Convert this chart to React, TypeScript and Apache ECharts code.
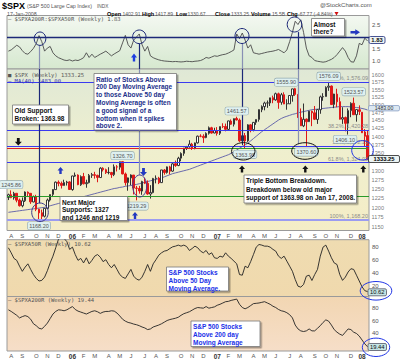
import React, { useEffect, useRef } from 'react';
import * as echarts from 'echarts';

const weeks = [
  '2005-07-29','2005-08-05','2005-08-12','2005-08-19','2005-08-26','2005-09-02','2005-09-09','2005-09-16','2005-09-23','2005-09-30',
  '2005-10-07','2005-10-14','2005-10-21','2005-10-28','2005-11-04','2005-11-11','2005-11-18','2005-11-25','2005-12-02','2005-12-09',
  '2005-12-16','2005-12-23','2005-12-30','2006-01-06','2006-01-13','2006-01-20','2006-01-27','2006-02-03','2006-02-10','2006-02-17',
  '2006-02-24','2006-03-03','2006-03-10','2006-03-17','2006-03-24','2006-03-31','2006-04-07','2006-04-14','2006-04-21','2006-04-28',
  '2006-05-05','2006-05-12','2006-05-19','2006-05-26','2006-06-02','2006-06-09','2006-06-16','2006-06-23','2006-06-30','2006-07-07',
  '2006-07-14','2006-07-21','2006-07-28','2006-08-04','2006-08-11','2006-08-18','2006-08-25','2006-09-01','2006-09-08','2006-09-15',
  '2006-09-22','2006-09-29','2006-10-06','2006-10-13','2006-10-20','2006-10-27','2006-11-03','2006-11-10','2006-11-17','2006-11-24',
  '2006-12-01','2006-12-08','2006-12-15','2006-12-22','2006-12-29','2007-01-05','2007-01-12','2007-01-19','2007-01-26','2007-02-02',
  '2007-02-09','2007-02-16','2007-02-23','2007-03-02','2007-03-09','2007-03-16','2007-03-23','2007-03-30','2007-04-06','2007-04-13',
  '2007-04-20','2007-04-27','2007-05-04','2007-05-11','2007-05-18','2007-05-25','2007-06-01','2007-06-08','2007-06-15','2007-06-22',
  '2007-06-29','2007-07-06','2007-07-13','2007-07-20','2007-07-27','2007-08-03','2007-08-10','2007-08-17','2007-08-24','2007-08-31',
  '2007-09-07','2007-09-14','2007-09-21','2007-09-28','2007-10-05','2007-10-12','2007-10-19','2007-10-26','2007-11-02','2007-11-09',
  '2007-11-16','2007-11-23','2007-11-30','2007-12-07','2007-12-14','2007-12-21','2007-12-28','2008-01-04','2008-01-11','2008-01-18',
];

const opens = [
  1227,1234,1226,1238,1220,1205,1218,1241,1238,1215,
  1229,1196,1187,1178,1198,1220,1235,1248,1268,1265,
  1259,1267,1269,1248,1285,1288,1261,1284,1264,1267,
  1287,1289,1287,1281,1307,1303,1295,1295,1289,1311,
  1310,1326,1291,1267,1280,1288,1252,1251,1244,1270,
  1265,1236,1240,1278,1279,1267,1302,1295,1311,1299,
  1320,1315,1336,1350,1366,1369,1377,1364,1381,1401,
  1401,1397,1410,1427,1411,1418,1410,1431,1431,1422,
  1448,1438,1456,1451,1387,1403,1387,1436,1421,1444,
  1453,1484,1494,1506,1506,1523,1516,1536,1508,1533,
  1503,1503,1530,1553,1534,1459,1433,1454,1446,1479,
  1474,1453,1484,1526,1527,1558,1562,1501,1535,1510,
  1454,1459,1441,1481,1505,1468,1484,1476,1414,1402.91,
];
const highs = [
  1237,1245.86,1242,1238,1224,1227,1243,1243,1238,1232,
  1234,1197,1195,1199,1224,1235,1249,1270,1273,1270,
  1275,1272,1271,1286,1295,1290,1287,1294,1275,1291,
  1294,1297,1289,1310,1310,1306,1310,1297,1318,1316,
  1326,1326.7,1295,1281,1290,1288,1258,1258,1272,1280,
  1273,1260,1280,1287,1283,1302,1305,1312,1314,1322,
  1329,1340,1353,1366,1372,1389,1381,1382,1403,1407,
  1407,1413,1431,1430,1427,1429,1431,1441,1440,1449,
  1453,1456,1461.57,1456,1410,1411,1438,1438,1445,1453,
  1485,1498,1510,1514,1523,1530,1540,1540,1539,1541,
  1518,1532,1553,1555.9,1534,1488,1504,1456,1480,1481,
  1496,1486,1530,1538,1561,1576.09,1564,1536,1553,1524,
  1492,1462,1488,1508,1523.57,1485,1498,1476,1423,1417.89,
];
const lows = [
  1220,1225,1221,1214,1203,1201,1215,1230,1210,1214,
  1191,1168.2,1169,1175,1198,1216,1228,1248,1257,1251,
  1259,1259,1248,1245,1283,1260,1258,1262,1253,1265,
  1280,1278,1268,1280,1298,1291,1290,1280,1285,1298,
  1303,1290,1259,1245,1260,1235,1219.29,1237,1234,1263,
  1234,1224,1238,1265,1263,1266,1289,1292,1290,1297,
  1311,1313,1327,1343,1360,1367,1360,1362,1379,1398,
  1381,1395,1406,1409,1410,1403,1405,1426,1416,1420,
  1436,1431,1450,1384,1374,1363.98,1384,1413,1416,1436,
  1446,1476,1482,1490,1496,1505,1513,1487,1500,1502,
  1484,1503,1510,1529,1458,1433,1429,1370.6,1445,1432,
  1451,1439,1471,1513,1527,1546,1500,1489,1492,1453,
  1439,1416,1406.1,1460,1467,1446,1467,1411,1370,1330.67,
];
const closes = [
  1234.2,1226.4,1237.8,1219.7,1205.1,1218.0,1241.5,1237.9,1215.3,1228.8,
  1195.9,1186.6,1177.8,1198.4,1220.1,1234.7,1248.3,1268.3,1265.1,1259.4,
  1267.3,1268.7,1248.3,1285.5,1287.6,1261.5,1283.7,1264.0,1267.0,1287.2,
  1289.4,1287.2,1281.4,1307.3,1303.0,1294.8,1295.5,1289.1,1311.3,1310.6,
  1325.8,1291.2,1267.0,1280.2,1288.2,1252.3,1251.5,1244.5,1270.2,1265.5,
  1236.2,1240.3,1278.6,1279.4,1266.7,1302.3,1295.1,1311.0,1298.9,1319.7,
  1314.8,1335.9,1349.6,1365.6,1368.6,1377.3,1364.3,1380.9,1401.2,1401.0,
  1396.7,1409.8,1427.1,1410.8,1418.3,1409.7,1430.7,1430.5,1422.2,1448.4,
  1438.1,1455.5,1451.2,1387.2,1402.8,1387.0,1436.1,1420.9,1443.8,1452.9,
  1484.4,1494.1,1505.6,1505.9,1522.8,1515.7,1536.3,1507.7,1532.9,1502.6,
  1503.4,1530.4,1552.5,1534.1,1459.0,1433.1,1453.6,1445.9,1479.4,1474.0,
  1453.6,1484.3,1525.8,1526.8,1557.6,1561.8,1500.6,1535.3,1509.7,1453.7,
  1458.7,1440.7,1481.1,1504.7,1468.0,1484.5,1478.5,1411.6,1401.0,1333.25,
];
const ma40 = [
  1188,1189,1190,1191,1192,1193,1194,1195,1196,1197,
  1198,1199,1200,1201,1203,1205,1207,1209,1211,1213,
  1215,1217,1219,1221,1223,1225,1227,1229,1231,1233,
  1235,1237,1239,1241,1243,1245,1247,1249,1251,1252,
  1254,1255,1257,1258,1259,1261,1262,1264,1266,1268,
  1270,1272,1274,1276,1278,1280,1283,1286,1289,1292,
  1294,1296,1298,1300,1302,1304,1307,1310,1313,1316,
  1319,1322,1325,1328,1331,1334,1337,1340,1343,1346,
  1350,1355,1360,1365,1370,1375,1380,1387,1394,1401,
  1408,1415,1421,1427,1433,1439,1445,1451,1456,1460,
  1463,1466,1469,1471,1474,1476,1478,1480,1482,1484,
  1485,1486,1487,1488,1489,1490,1491,1492,1493,1494,
  1494,1494,1494,1493,1492,1491,1490,1488,1486,1483,
];
const ratio = [
  1.40,1.45,1.55,1.65,1.58,1.42,1.30,1.27,1.38,1.52,
  1.72,2.06,1.80,1.40,1.53,1.60,1.33,1.20,1.12,1.07,
  1.02,1.00,1.03,0.98,1.02,1.00,1.05,1.12,1.33,1.13,
  1.27,1.13,1.20,1.27,1.33,1.40,1.30,1.20,1.28,1.35,
  1.42,1.75,2.07,1.67,1.53,1.87,2.00,2.13,1.67,1.40,
  1.60,1.20,1.12,1.07,1.03,1.00,0.98,0.97,0.96,0.95,
  0.96,0.95,0.94,0.95,0.97,0.96,0.95,0.97,0.98,1.00,
  1.05,1.13,1.10,1.15,1.20,1.18,1.22,1.25,1.27,1.32,
  1.38,1.45,2.13,1.93,2.17,1.87,1.53,1.67,1.33,1.30,
  1.27,1.30,1.33,1.36,1.38,1.40,1.43,1.47,1.40,1.33,
  1.45,1.80,2.20,2.67,2.53,2.73,2.20,1.53,1.20,1.13,
  1.00,0.97,0.95,0.93,0.95,1.00,1.05,1.13,1.25,1.40,
  1.55,1.40,1.13,0.95,0.93,1.20,1.73,1.67,1.95,1.83,
];
const a50r = [
  78.5,70.7,62,59,50,42,48.5,53.6,45,37,
  31,27,28,33,43,55,65.5,78.5,92,94,
  93,88,76,79.5,68,59,62,55,63,53.6,
  59,65.5,68,64,57,60,52.6,47.5,52.6,45,
  37,33,31,38,45,34.5,30,28.3,33,42,
  52.6,42,53.6,60,67,70.7,73.3,74.3,77.4,80,
  81,82.6,81,82.6,80.5,74.3,77.4,81,78.5,73.3,
  70.7,74.3,68,70.7,63,62,65.5,64,70.7,65.5,
  62,57.8,53.6,37,36,50,47.5,57,68,79.5,
  83.6,82.6,81,81,79.5,76,73.3,65.5,62,65.5,
  57.8,50,42,29.4,19,17.5,21.6,34.5,36,27.8,
  37,45,65.5,79.5,82.6,73.3,63,55,52.6,37,
  28,33,41,46,45,36,27,18,12,10.62,
];
const a200r = [
  76.5,74,71,68,64,66,67.5,66,62,55,
  52,48,47,51,56,63,70,74,76.5,76,
  75,76.5,79,81.5,77,74.5,73,71.5,70,72,
  74,75,73.5,71,73,74,74,75,74.5,71.5,
  67,62,59,57,56,54.5,53.5,52,50,48.5,
  46,47,50,51.5,53,55,57.5,60,61.5,62.5,
  63.5,65,68,70.5,72,73.5,76,78.5,80,79.5,
  79,81.5,79,80,81,83.5,85,87,89,89.5,
  91,92,93,85,80,78,80,83,86,86.5,
  87,88,89,87,85,82,80,77,75,74,
  72,69,64,53,47,44,43,44,47,44,
  44,48,52,57,61,59,53,46,42,39,
  37,42,47,46,42,40,36,30,24,19.44,
];
// visible right-hand price tick labels (1325 sits under the close tag)
const priceTicks = [1150,1175,1200,1225,1250,1275,1300,1350,1375,1400,1425,1450,1475,1500,1525,1550,1575,1600];
const ratioTicks = [1.0, 1.5, 2.5];
const a50Ticks = [20, 40, 60, 80];
const a200Ticks = [40, 60, 80];
const monthLetters = ['J','F','M','A','M','J','J','A','S','O','N','D'];

// price annotations (week index, value, text, side)
const noteIdx = [1, 11, 41, 46, 82, 85, 103, 107, 115, 122, 124];
const noteVal = [1245.86, 1168.2, 1326.7, 1219.29, 1461.57, 1363.98, 1555.9, 1370.6, 1576.09, 1406.1, 1523.57];
const noteText = ['1245.86','1168.20','1326.70','1219.29','1461.57','1363.98','1555.90','1370.60','1576.09','1406.10','1523.57'];
const noteSide = ['top','bottom','top','bottom','top','bottom','top','bottom','top','bottom','top'];

const fibVals = [1576.09, 1420.28, 1372.15, 1324.02];
const fibText = ['0%, 1,576.09', '38.2%, 1,420.28', '50%, 1,372.15', '61.8%, 1,324.02'];

const FONT = 'Liberation Sans';
const MONO = 'DejaVu Sans Mono';

function box(x: number, y: number, w: number, h: number, lines: string[], color: string, lh: number, fs = 6.5) {
  return {
    type: 'group', z: 60,
    children: [
      { type: 'rect', z: 60, shape: { x, y, width: w, height: h },
        style: { fill: '#ffffff', stroke: '#777', lineWidth: 0.8, shadowColor: 'rgba(0,0,0,0.35)', shadowOffsetX: 1.5, shadowOffsetY: 1.5, shadowBlur: 1 } },
      { type: 'text', z: 61, x: x + 2, y: y + 1.8,
        style: { text: lines.join('\n'), fill: color, fontSize: fs, fontWeight: 'bold', fontFamily: FONT, lineHeight: lh, verticalAlign: 'top', align: 'left' } },
    ],
  };
}
function arrowUp(cx: number, top: number, w: number, h: number, color: string) {
  const m = top + h * 0.5;
  return { type: 'polygon', z: 60, shape: { points: [[cx, top], [cx + w / 2, m], [cx + w / 5, m], [cx + w / 5, top + h], [cx - w / 5, top + h], [cx - w / 5, m], [cx - w / 2, m]] }, style: { fill: color } };
}
function arrowDown(cx: number, top: number, w: number, h: number, color: string) {
  const m = top + h * 0.5;
  return { type: 'polygon', z: 60, shape: { points: [[cx, top + h], [cx + w / 2, m], [cx + w / 5, m], [cx + w / 5, top], [cx - w / 5, top], [cx - w / 5, m], [cx - w / 2, m]] }, style: { fill: color } };
}
function arrowRight(left: number, cy: number, w: number, h: number, color: string) {
  const m = left + w * 0.5;
  return { type: 'polygon', z: 60, shape: { points: [[left + w, cy], [m, cy - h / 2], [m, cy - h / 5], [left, cy - h / 5], [left, cy + h / 5], [m, cy + h / 5], [m, cy + h / 2]] }, style: { fill: color } };
}
function ell(cx: number, cy: number, rx: number, ry: number, color: string, lw = 1) {
  return { type: 'ellipse', z: 58, shape: { cx, cy, rx, ry }, style: { fill: 'none', stroke: color, lineWidth: lw } };
}
function tag(x: number, cy: number, w: number, text: string, fill: string, stroke: string, color: string, bold: boolean, h = 7, fs = 5.8) {
  return {
    type: 'group', z: 62,
    children: [
      { type: 'rect', z: 62, shape: { x, y: cy - h / 2, width: w, height: h, r: 1.5 }, style: { fill, stroke, lineWidth: 0.8 } },
      { type: 'text', z: 63, x: x + w / 2, y: cy, style: { text, fill: color, fontSize: fs, fontWeight: bold ? 'bold' : 'normal', fontFamily: FONT, align: 'center', verticalAlign: 'middle' } },
    ],
  };
}
function txt(x: number, y: number, text: string, fs: number, color: string, bold = false, family = FONT) {
  return { type: 'text', z: 55, x, y, style: { text, fill: color, fontSize: fs, fontWeight: bold ? 'bold' : 'normal', fontFamily: family, verticalAlign: 'middle', align: 'left' } };
}
const near = (v: number, list: number[]) => list.some((t) => Math.abs(t - v) < 1e-6);

function buildOption() {
  const L = 7, R = 31;
  const grad = (stops: [number, string][]) => new echarts.graphic.LinearGradient(0, 0, 0, 1, stops.map(([offset, color]) => ({ offset, color })));
  const gridBase = { left: L, right: R, show: true, borderColor: '#9a9a9a', borderWidth: 1, containLabel: false, outerBoundsMode: 'none' };

  const catAxis = (gi: number, showLabels: boolean) => ({
    type: 'category', gridIndex: gi, data: weeks, boundaryGap: true,
    axisLine: { show: false }, axisTick: { show: false }, splitLine: { show: false },
    axisLabel: {
      show: showLabels, fontSize: 6, color: '#555', margin: 2, fontFamily: FONT, hideOverlap: false,
      interval: (i: number) => i > 0 && weeks[i].slice(5, 7) !== weeks[i - 1].slice(5, 7),
      formatter: (v: string) => {
        const m = parseInt(v.slice(5, 7), 10);
        return m === 1 ? '{b|' + v.slice(2, 4) + '}' : monthLetters[m - 1];
      },
      rich: { b: { fontWeight: 'bold', fontSize: 6.5, color: '#333', fontFamily: FONT } },
    },
  });
  const valAxisLabel = (list: number[], digits: number) => ({
    fontSize: 6, color: '#555', margin: 3, fontFamily: FONT, hideOverlap: false,
    formatter: (v: number) => (near(v, list) ? v.toFixed(digits) : ''),
  });

  const candleData = weeks.map((_, i) => {
    const o = opens[i], c = closes[i];
    const prev = i > 0 ? closes[i - 1] : o;
    const col = c >= prev ? '#333333' : '#e01818';
    const fill = c < o ? col : '#ffffff';
    return { value: [o, c, lows[i], highs[i]], itemStyle: { color: fill, color0: fill, borderColor: col, borderColor0: col, borderWidth: 1 } };
  });

  const vStyle = (color: string) => ({ color, width: 1.2, type: 'solid' });
  const navy = '#1c2878', grayBlue = '#8890b4';
  const hy = 13.5;

  const graphic: any[] = [
    // header
    txt(2, 6, '$SPX', 9, '#000', true),
    txt(27, 6.3, '(S&P 500 Large Cap Index)', 5.3, '#555'),
    txt(97, 6.5, 'INDX', 4.8, '#555'),
    txt(320, 5, '@StockCharts.com', 6, '#555'),
    txt(7, hy, '17-Jan-2008', 5.3, '#555'),
    txt(107, hy, 'Open', 5.5, '#000', true), txt(122.5, hy, '1402.91', 5, '#555'),
    txt(142, hy, 'High', 5.5, '#000', true), txt(155, hy, '1417.89', 5, '#555'),
    txt(176, hy, 'Low', 5.5, '#000', true), txt(187.5, hy, '1330.67', 5, '#555'),
    txt(215, hy, 'Close', 5.5, '#000', true), txt(231, hy, '1333.25', 5, '#555'),
    txt(251, hy, 'Volume', 5.5, '#000', true), txt(272, hy, '15.5B', 5, '#555'),
    txt(287, hy, 'Chg', 5.5, '#000', true), txt(298, hy, '-67.77 (-4.84%)', 5, '#555'),
    { type: 'polygon', z: 55, shape: { points: [[334.5, 12], [338.5, 12], [336.5, 15.5]] }, style: { fill: '#d01010' } },
    // panel headers
    txt(8, 19, '\u2014 $SPXA200R:$SPXA50R (Weekly) 1.83', 5.5, '#555', false, MONO),
    txt(8, 74.5, '\u25A0 $SPX (Weekly) 1333.25', 5.5, '#555', false, MONO),
    txt(8, 81, '\u2014 MA(40) 1483.00', 5.5, '#3333aa', false, MONO),
    txt(8, 243.5, '\u2014 $SPXA50R (Weekly) 10.62', 5.5, '#555', false, MONO),
    txt(8, 300, '\u2014 $SPXA200R (Weekly) 19.44', 5.5, '#555', false, MONO),
    // ellipses
    ell(40, 38.7, 5.8, 6.7, navy), ell(139.3, 36.8, 6.7, 6.8, navy), ell(242, 36, 7, 7.5, navy), ell(294.5, 24.5, 7.3, 7.5, navy),
    ell(40, 212.3, 8.3, 9.3, '#3a3a90'), ell(139.7, 186, 7, 11, '#4a3a96'),
    ell(243.3, 151.3, 11.7, 8.7, '#111'), ell(305, 151, 13.3, 8.3, '#111'), ell(362.5, 150.3, 10.8, 9.7, '#2236e6'),
    ell(376, 290.8, 15.8, 9.3, '#2236e6'), ell(376, 347.3, 13.7, 9.2, '#2236e6'),
    // arrows
    arrowDown(18.3, 138, 7, 7.5, '#111'),
    arrowUp(60.5, 167, 6, 7, '#2438c0'),
    arrowDown(143.5, 168, 7, 8, '#2438c0'),
    arrowUp(135, 212, 6, 7, '#2438c0'),
    arrowUp(242, 165.5, 6, 7, '#111'), arrowUp(305.3, 165.5, 6, 7, '#111'), arrowUp(363.3, 165.5, 6, 7, '#111'),
    arrowUp(134, 53.5, 6, 8, '#1f3fe0'),
    arrowRight(350.5, 32.3, 9.5, 6, '#2438c0'),
    // text boxes
    box(311.5, 18.5, 33, 17.5, ['Almost', 'there?'], '#111', 7.5),
    box(94, 73.5, 82.5, 56.5, ['Ratio of Stocks Above', '200 Day Moving Average', 'to those Above 50 day', 'Moving Average is often', 'a good signal of a', 'bottom when it spikes', 'above 2.'], '#22308a', 7.8),
    box(12.5, 105, 56, 19, ['Old Support', 'Broken: 1363.98'], '#111', 8),
    box(60, 196.5, 67.5, 24, ['Next Major', 'Supports: 1327', 'and 1246 and 1219'], '#111', 7.6),
    box(244, 175, 112.5, 28, ['Triple Bottom Breakdown.', 'Breakdown below old major', 'support of 1363.98 on Jan 17, 2008.'], '#111', 8.4),
    box(166.5, 267, 62, 24, ['S&P 500 Stocks', 'Above 50 Day', 'Moving Average.'], '#1a30e8', 7.7),
    box(191, 321, 69, 25.5, ['S&P 500 Stocks', 'Above 200 day', 'Moving Average'], '#1a30e8', 7.9),
    // value tags
    tag(369, 40, 16, '1.83', '#eef4f4', '#1c2878', '#111', true),
    tag(368.5, 108.2, 31, '1483.00', '#dce8f2', '#8aa0c4', '#333', false, 5.4, 5.2),
    tag(368.5, 159, 31, '1333.25', '#ecf4f4', '#222', '#000', true),
    tag(368, 292.3, 18.5, '10.62', '#c4e4e4', '#556', '#111', false),
    tag(368, 347, 18.5, '19.44', '#c4e4e4', '#556', '#111', false),
  ];

  return {
    animation: false,
    backgroundColor: '#ffffff',
    textStyle: { fontFamily: FONT },
    grid: [
      { ...gridBase, top: 15.5, height: 53.5, backgroundColor: grad([[0, '#f3f8f1'], [1, '#d6e8cf']]) },
      { ...gridBase, top: 69, height: 161.5, backgroundColor: grad([[0, '#dfe8d6'], [0.45, '#eeefcf'], [1, '#f5edc6']]) },
      { ...gridBase, top: 239.7, height: 56.8, backgroundColor: grad([[0, '#efdcb1'], [1, '#f0d9ad']]) },
      { ...gridBase, top: 296.5, height: 54.5, backgroundColor: grad([[0, '#f2d6b2'], [1, '#f6dec8']]) },
    ],
    xAxis: [catAxis(0, false), catAxis(1, true), catAxis(2, false), catAxis(3, true)],
    yAxis: [
      { gridIndex: 0, type: 'value', position: 'right', min: 0.64, max: 2.915, splitNumber: 5,
        axisLine: { show: false }, axisTick: { show: false }, splitLine: { show: false },
        axisLabel: valAxisLabel(ratioTicks, 1) },
      { gridIndex: 1, type: 'log', logBase: 10, position: 'right', min: 1142.1, max: 1620.9,
        axisLine: { show: false }, axisTick: { show: false }, splitLine: { show: false }, axisLabel: { show: false } },
      { gridIndex: 2, type: 'value', position: 'right', min: 3, max: 91, splitNumber: 4,
        axisLine: { show: false }, axisTick: { show: false }, splitLine: { show: false },
        axisLabel: valAxisLabel(a50Ticks, 0) },
      { gridIndex: 3, type: 'value', position: 'right', min: 13, max: 97, splitNumber: 4,
        axisLine: { show: false }, axisTick: { show: false }, splitLine: { show: false },
        axisLabel: valAxisLabel(a200Ticks, 0) },
    ],
    series: [
      {
        type: 'line', xAxisIndex: 0, yAxisIndex: 0, data: ratio, symbol: 'none', silent: true,
        lineStyle: { color: '#4a4a4a', width: 0.9 },
        markLine: {
          silent: true, symbol: ['none', 'none'], label: { show: false },
          data: [
            { yAxis: 2.0, lineStyle: { color: navy, width: 1.3, type: 'solid' } },
            [{ coord: [weeks[11], 1.64], lineStyle: vStyle(grayBlue) }, { coord: [weeks[11], 0.64] }],
            [{ coord: [weeks[47], 1.72], lineStyle: vStyle(navy) }, { coord: [weeks[47], 0.64] }],
            [{ coord: [weeks[84], 1.72], lineStyle: vStyle(grayBlue) }, { coord: [weeks[84], 0.64] }],
            [{ coord: [weeks[104], 2.21], lineStyle: vStyle(navy) }, { coord: [weeks[104], 0.64] }],
          ],
        },
      },
      {
        type: 'candlestick', xAxisIndex: 1, yAxisIndex: 1, data: candleData, barWidth: 2, silent: true, z: 3,
        markLine: {
          silent: true, symbol: ['none', 'none'], label: { show: false },
          data: [
            ...fibVals.map((v, k) => ({
              yAxis: v, lineStyle: { color: '#3a3af0', width: 1, type: 'solid' },
              label: { show: true, position: 'insideEndTop', formatter: fibText[k], fontSize: 5.5, color: '#8a8a8a', distance: [1, 0.5], fontFamily: FONT },
            })),
            { yAxis: 1363.98, lineStyle: { color: '#e02020', width: 1, type: 'solid' } },
            [{ coord: [weeks[69], 1363.98], lineStyle: { color: '#2a9a2a', width: 1, type: 'solid' } }, { coord: [weeks[129], 1363.98] }],
            { yAxis: 1231, lineStyle: { color: '#2a9a2a', width: 1, type: 'solid' } },
            { yAxis: 1168.2, lineStyle: { color: '#9c9cf0', width: 2, type: 'solid' },
              label: { show: true, position: 'insideEndTop', formatter: '100%, 1,168.20', fontSize: 5.5, color: '#8a8a8a', distance: [1, 1], fontFamily: FONT } },
          ],
        },
        markPoint: {
          silent: true, symbol: 'rect', symbolSize: 1, itemStyle: { color: 'rgba(0,0,0,0)' },
          data: noteIdx.map((idx, k) => ({
            coord: [weeks[idx], noteVal[k]],
            label: {
              show: true, position: noteSide[k], distance: 1.5, formatter: noteText[k],
              offset: idx === 103 ? [-9, 0] : idx === 122 ? [-3, -1] : [0, 0],
              fontSize: 5.5, color: '#555', fontFamily: FONT, backgroundColor: '#def0f0', borderColor: '#93aab0', borderWidth: 0.6,
              padding: [1, 1.5, 0.5, 1.5], borderRadius: 1.5,
            },
          })),
        },
      },
      {
        type: 'line', xAxisIndex: 1, yAxisIndex: 1, data: ma40, symbol: 'none', silent: true, z: 2,
        lineStyle: { color: '#5a5aa8', width: 0.9 },
        markLine: {
          silent: true, symbol: ['none', 'none'], label: { show: false },
          data: [
            [{ coord: [weeks[11], 1620.9], lineStyle: vStyle(navy) }, { coord: [weeks[11], 1212] }],
            [{ coord: [weeks[47], 1620.9], lineStyle: vStyle(grayBlue) }, { coord: [weeks[47], 1288] }],
            [{ coord: [weeks[84], 1620.9], lineStyle: vStyle(navy) }, { coord: [weeks[84], 1378] }],
            [{ coord: [weeks[104], 1620.9], lineStyle: vStyle(grayBlue) }, { coord: [weeks[104], 1378] }],
          ],
        },
      },
      {
        type: 'scatter', xAxisIndex: 1, yAxisIndex: 1, silent: true, symbolSize: 1,
        itemStyle: { color: 'rgba(0,0,0,0)' },
        data: priceTicks.map((v) => [weeks[weeks.length - 1], v]),
        label: { show: true, position: 'right', distance: 3.5, fontSize: 5.6, color: '#555', fontFamily: FONT, formatter: (p: any) => String(p.value[1]) },
      },
      { type: 'line', xAxisIndex: 2, yAxisIndex: 2, data: a50r, symbol: 'none', silent: true, lineStyle: { color: '#222', width: 0.9 } },
      { type: 'line', xAxisIndex: 3, yAxisIndex: 3, data: a200r, symbol: 'none', silent: true, lineStyle: { color: '#222', width: 0.9 } },
    ],
    graphic,
  };
}

export default function App() {
  const ref = useRef<HTMLDivElement>(null);
  useEffect(() => {
    if (!ref.current) return;
    const chart = echarts.init(ref.current, null, { renderer: 'svg' });
    chart.setOption(buildOption() as any);
    return () => chart.dispose();
  }, []);
  return <div ref={ref} style={{ position: 'fixed', left: 0, top: 0, width: 400, height: 361, background: '#fff' }} />;
}
